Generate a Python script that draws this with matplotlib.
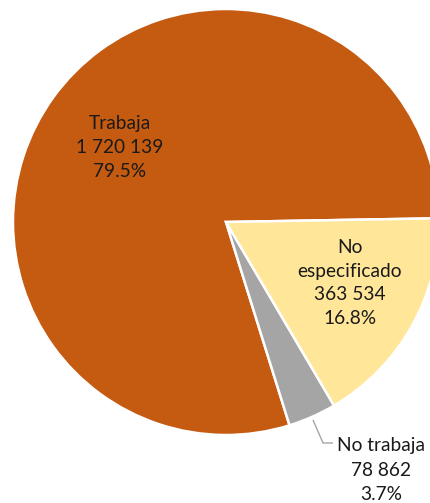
import matplotlib.pyplot as plt

labels = ['Trabaja', 'No trabaja', 'No\nespecificado']
values = [1720139, 78862, 363534]
pcts = ['79.5%', '3.7%', '16.8%']
colors = ['#C55A11', '#A5A5A5', '#FFE699']

plt.rcParams['font.family'] = ['Lato', 'DejaVu Sans']

fig = plt.figure(figsize=(4.3, 5.03), dpi=100)
ax = fig.add_axes([0, 0, 1, 1])

H = 503
cx, cy, r = 226, H - 222, 213

ax.pie(values, colors=colors, startangle=1, counterclock=True,
       center=(cx, cy), radius=r, frame=True,
       wedgeprops=dict(edgecolor='white', linewidth=1.8))
ax.set_xlim(0, 430)
ax.set_ylim(0, 503)
ax.set_aspect('equal')
ax.axis('off')


def fmt(v):
    return f'{v:,}'.replace(',', ' ')


fs = 13.8
ls = 1.5
txt = '#1a1a1a'
ax.text(120, H - 147, f'{labels[0]}\n{fmt(values[0])}\n{pcts[0]}',
        ha='center', va='center', fontsize=fs, color=txt, linespacing=ls)
ax.text(350, H - 283, f'{labels[2]}\n{fmt(values[2])}\n{pcts[2]}',
        ha='center', va='center', fontsize=fs, color=txt, linespacing=ls)
ax.text(381, H - 470, f'{labels[1]}\n{fmt(values[1])}\n{pcts[1]}',
        ha='center', va='center', fontsize=fs, color=txt, linespacing=ls)

# leader line for the small slice
ax.plot([313, 323, 333], [H - 420, H - 443, H - 443], color='#A5A5A5', lw=1,
        solid_capstyle='butt', clip_on=False)

fig.savefig('out.png', dpi=100)
